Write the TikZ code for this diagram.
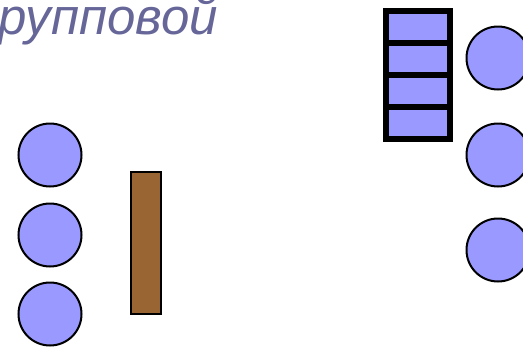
\documentclass[tikz,border=0pt]{standalone}
\usepackage{fontspec}
\setmainfont{Liberation Sans}
\definecolor{circfill}{HTML}{9999FF}
\definecolor{brown1}{HTML}{996633}
\definecolor{titlec}{HTML}{666699}
\begin{document}
\begin{tikzpicture}[x=1pt,y=-1pt,
  person/.style={circle,draw=black,line width=2pt,fill=circfill,minimum size=63pt,inner sep=0pt},
  shelf/.style={draw=black,line width=6pt,fill=circfill},
  table1/.style={draw=black,line width=2pt,fill=brown1}]
\useasboundingbox (0,0) rectangle (523,346);
\node[text=titlec,font=\fontsize{51}{55}\selectfont\itshape,anchor=base east,inner sep=0pt] (title) at (218,34) {групповой};
\node[person] (l1) at (50,155) {};
\node[person] (l2) at (50,235) {};
\node[person] (l3) at (50,314) {};
\draw[table1] (131,172) rectangle (161,314);
\foreach \k in {0,1,2,3}{
  \draw[shelf] (386,{11+32*\k}) rectangle (450,{43+32*\k});
}
\node[person] (r1) at (498,58) {};
\node[person] (r2) at (498,155) {};
\node[person] (r3) at (498,250) {};
\end{tikzpicture}
\end{document}
